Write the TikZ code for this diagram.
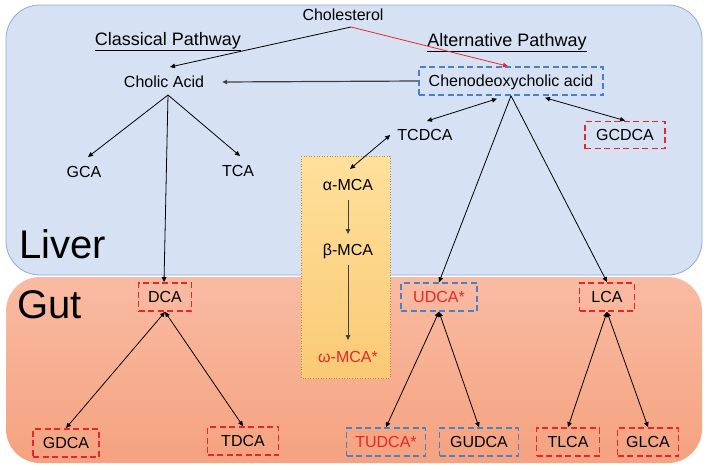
\documentclass[tikz,border=0pt]{standalone}
\usepackage{fontspec}
\setmainfont{Liberation Sans}
\usetikzlibrary{arrows.meta,calc}
\definecolor{liverfill}{HTML}{D6E2F3}
\definecolor{liverline}{HTML}{8EAADB}
\definecolor{guttop}{HTML}{F9BBA3}
\definecolor{gutbot}{HTML}{F5A27F}
\definecolor{mcatop}{HTML}{FFE09B}
\definecolor{mcabot}{HTML}{FACA75}
\definecolor{mcaline}{HTML}{A88C5E}
\definecolor{myred}{HTML}{E8262A}
\definecolor{myblue}{HTML}{4A80C4}
\definecolor{darkline}{HTML}{404040}
\tikzset{
  lbl/.style={inner sep=0pt, text height=11.5pt, text depth=0pt, font=\fontsize{16}{18}\selectfont},
  pathlbl/.style={inner sep=0pt, text height=13pt, text depth=0pt, font=\fontsize{18}{20}\selectfont},
  big/.style={inner sep=0pt, text height=28.6pt, text depth=0pt, anchor=west, font=\fontsize{40}{44}\selectfont},
  redbox/.style={lbl, draw=myred, line width=1.8pt, dash pattern=on 6pt off 3.5pt, minimum height=28pt},
  bluebox/.style={lbl, draw=myblue, line width=1.5pt, dash pattern=on 6pt off 3.5pt, minimum height=28pt},
  arr/.style={line width=0.8pt, -{Triangle[length=5pt,width=4.5pt]}},
  darr/.style={line width=0.8pt, {Triangle[length=5pt,width=4.5pt]}-{Triangle[length=5pt,width=4.5pt]}},
}
\begin{document}
\begin{tikzpicture}[x=1pt,y=-1pt]
\useasboundingbox (0,0) rectangle (709,469);
% regions
\fill[liverfill, rounded corners=34pt] (6,5) rectangle (702,275);
\draw[liverline, line width=0.8pt, rounded corners=34pt] (6,5) rectangle (702,275);
\shade[top color=guttop, bottom color=gutbot, rounded corners=34pt] (6,277) rectangle (702,463);
\shade[top color=mcatop, bottom color=mcabot] (301,156) rectangle (390,378);
\draw[mcaline, line width=0.6pt, dotted] (301,156) rectangle (390,378);

% region labels
\node[big] (liver) at (19,244) {Liver};
\node[big] (gut) at (17,304) {Gut};

% liver nodes
\node[lbl] (chol) at (343,15) {Cholesterol};
\node[pathlbl] (classical) at (168,39) {\underline{Classical Pathway}};
\node[pathlbl] (alt) at (507,40) {\underline{Alternative Pathway}};
\node[lbl] (cholic) at (164,82) {Cholic Acid};
\node[bluebox, minimum width=184pt] (cheno) at (511,81) {Chenodeoxycholic acid};
\node[lbl] (gca) at (84,172) {GCA};
\node[lbl] (tca) at (238,171) {TCA};
\node[lbl] (tcdca) at (425,135) {TCDCA};
\node[redbox, minimum width=80pt, minimum height=27pt] (gcdca) at (625,135) {GCDCA};

% MCA column
\node[lbl] (amca) at (348,185) {α-MCA};
\node[lbl] (bmca) at (348,250) {β-MCA};
\node[lbl, text=myred] (wmca) at (348,357) {ω-MCA*};

% gut nodes
\node[redbox, minimum width=53pt] (dca) at (165,297) {DCA};
\node[redbox, minimum width=66pt] (gdca) at (66,443) {GDCA};
\node[redbox, minimum width=71pt] (tdca) at (243,441) {TDCA};
\node[bluebox, minimum width=76pt, text=myred] (udca) at (439,297) {UDCA*};
\node[redbox, minimum width=55pt] (lca) at (607,297) {LCA};
\node[bluebox, minimum width=79pt, text=myred] (tudca) at (386,442) {TUDCA*};
\node[bluebox, minimum width=79pt] (gudca) at (479,442) {GUDCA};
\node[redbox, minimum width=63pt] (tlca) at (568,442) {TLCA};
\node[redbox, minimum width=61pt] (glca) at (648,442) {GLCA};

% connectors
\coordinate (cholfoot) at ([shift={(8,12)}]chol.center);
\draw[arr] (cholfoot) -- ([shift={(6,-15)}]cholic.center);
\draw[arr, myred] (cholfoot) -- ([xshift=-3pt]cheno.north);
\draw[arr, darkline, line width=1.2pt] (cheno.west) -- ([xshift=18pt]cholic.east);
\coordinate (cholicfoot) at ([shift={(4,13)}]cholic.center);
\draw[arr] (cholicfoot) -- ([shift={(4,-15)}]gca.center);
\draw[arr] (cholicfoot) -- ([shift={(2,-15)}]tca.center);
\draw[arr] (cholicfoot) -- ([xshift=-1pt]dca.north);
\draw[darr] (dca.south) -- (gdca.north);
\draw[darr] (dca.south) -- (tdca.north);

\draw[darr] ([shift={(-14,3)}]cheno.south) -- ([shift={(2,-14)}]tcdca.center);
\draw[darr] ([xshift=-7pt]tcdca.west) -- ([shift={(2,-16)}]amca.center);
\draw[darr] ([shift={(34,2)}]cheno.south) -- (gcdca.north);
\draw[arr] (cheno.south) -- (udca.north);
\draw[arr] (cheno.south) -- (lca.north);
\draw[darr] (udca.south) -- (tudca.north);
\draw[darr] (udca.south) -- (gudca.north);
\draw[darr] (lca.south) -- (tlca.north);
\draw[darr] (lca.south) -- (glca.north);

\draw[arr, darkline, shorten <=9pt, shorten >=10pt] (amca.south) -- (bmca.north);
\draw[arr, darkline, shorten <=9pt, shorten >=11pt] (bmca.south) -- (wmca.north);
\end{tikzpicture}
\end{document}
